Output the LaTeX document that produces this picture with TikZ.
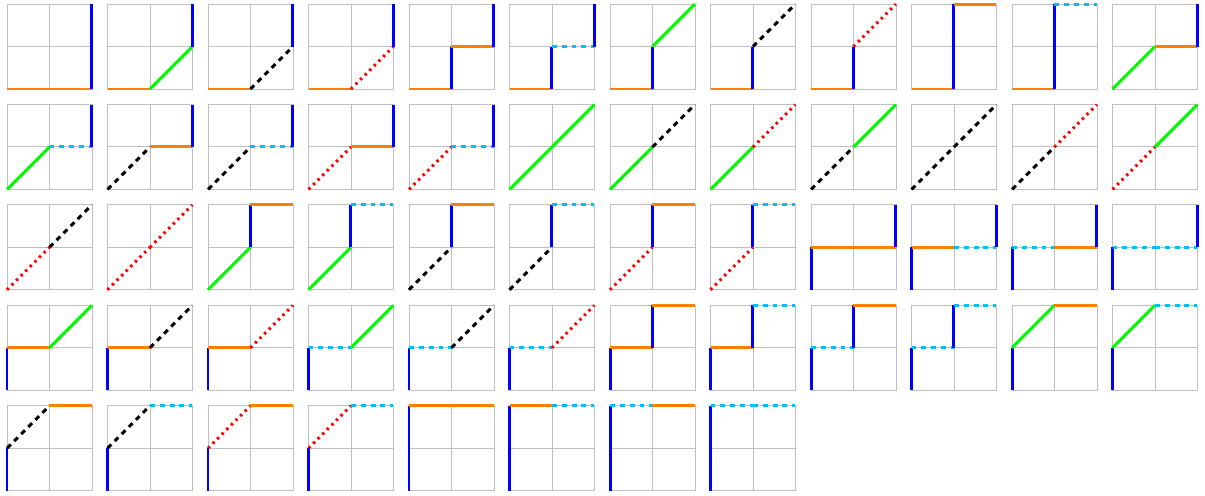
\documentclass[tikz,border=0pt]{standalone}
\usepackage{tikz}

\definecolor{pathOrange}{RGB}{255,128,0}
\definecolor{pathCyan}{RGB}{0,191,255}
\definecolor{pathGreen}{RGB}{0,250,0}

% step vectors: E/C east, N north, G/K/R diagonal
\def\dxE{1}\def\dyE{0}
\def\dxC{1}\def\dyC{0}
\def\dxN{0}\def\dyN{1}
\def\dxG{1}\def\dyG{1}
\def\dxK{1}\def\dyK{1}
\def\dxR{1}\def\dyR{1}

\begin{document}
\begin{tikzpicture}[
    x=0.2mm, y=0.2mm,
    gridline/.style={draw=black!25, line width=0.55pt},
    seg/.style={line width=1.7pt},
    moveE/.style={seg, draw=pathOrange},
    moveC/.style={seg, draw=pathCyan, dash pattern=on 2.8pt off 2.8pt},
    moveN/.style={seg, draw=blue},
    moveG/.style={seg, draw=pathGreen},
    moveK/.style={seg, draw=black, dash pattern=on 3pt off 2.7pt},
    moveR/.style={seg, draw=red, dash pattern=on 1.4pt off 2.3pt},
]
\useasboundingbox (0,0) rectangle (1205,495);

% one panel per path, 12 per row
\foreach \steps [count=\i from 0] in {
    {E,E,N,N}, {E,G,N}, {E,K,N}, {E,R,N}, {E,N,E,N}, {E,N,C,N},
    {E,N,G}, {E,N,K}, {E,N,R}, {E,N,N,E}, {E,N,N,C}, {G,E,N},
    {G,C,N}, {K,E,N}, {K,C,N}, {R,E,N}, {R,C,N}, {G,G},
    {G,K}, {G,R}, {K,G}, {K,K}, {K,R}, {R,G},
    {R,K}, {R,R}, {G,N,E}, {G,N,C}, {K,N,E}, {K,N,C},
    {R,N,E}, {R,N,C}, {N,E,E,N}, {N,E,C,N}, {N,C,E,N}, {N,C,C,N},
    {N,E,G}, {N,E,K}, {N,E,R}, {N,C,G}, {N,C,K}, {N,C,R},
    {N,E,N,E}, {N,E,N,C}, {N,C,N,E}, {N,C,N,C}, {N,G,E}, {N,G,C},
    {N,K,E}, {N,K,C}, {N,R,E}, {N,R,C}, {N,N,E,E}, {N,N,E,C},
    {N,N,C,E}, {N,N,C,C}}{
  \pgfmathtruncatemacro{\col}{mod(\i,12)}
  \pgfmathtruncatemacro{\row}{div(\i,12)}
  \begin{scope}[shift={(7+100.5*\col, 406-100.4*\row)}, scale=42.5]
    \draw[gridline] (0,0) rectangle (2,2) (1,0) -- (1,2) (0,1) -- (2,1);
    \coordinate (p) at (0,0);
    \foreach \s in \steps {
      \edef\dx{\csname dx\s\endcsname}
      \edef\dy{\csname dy\s\endcsname}
      \draw[move\s] (p) -- ++(\dx,\dy) coordinate (p);
    }
  \end{scope}
}

\end{tikzpicture}
\end{document}
